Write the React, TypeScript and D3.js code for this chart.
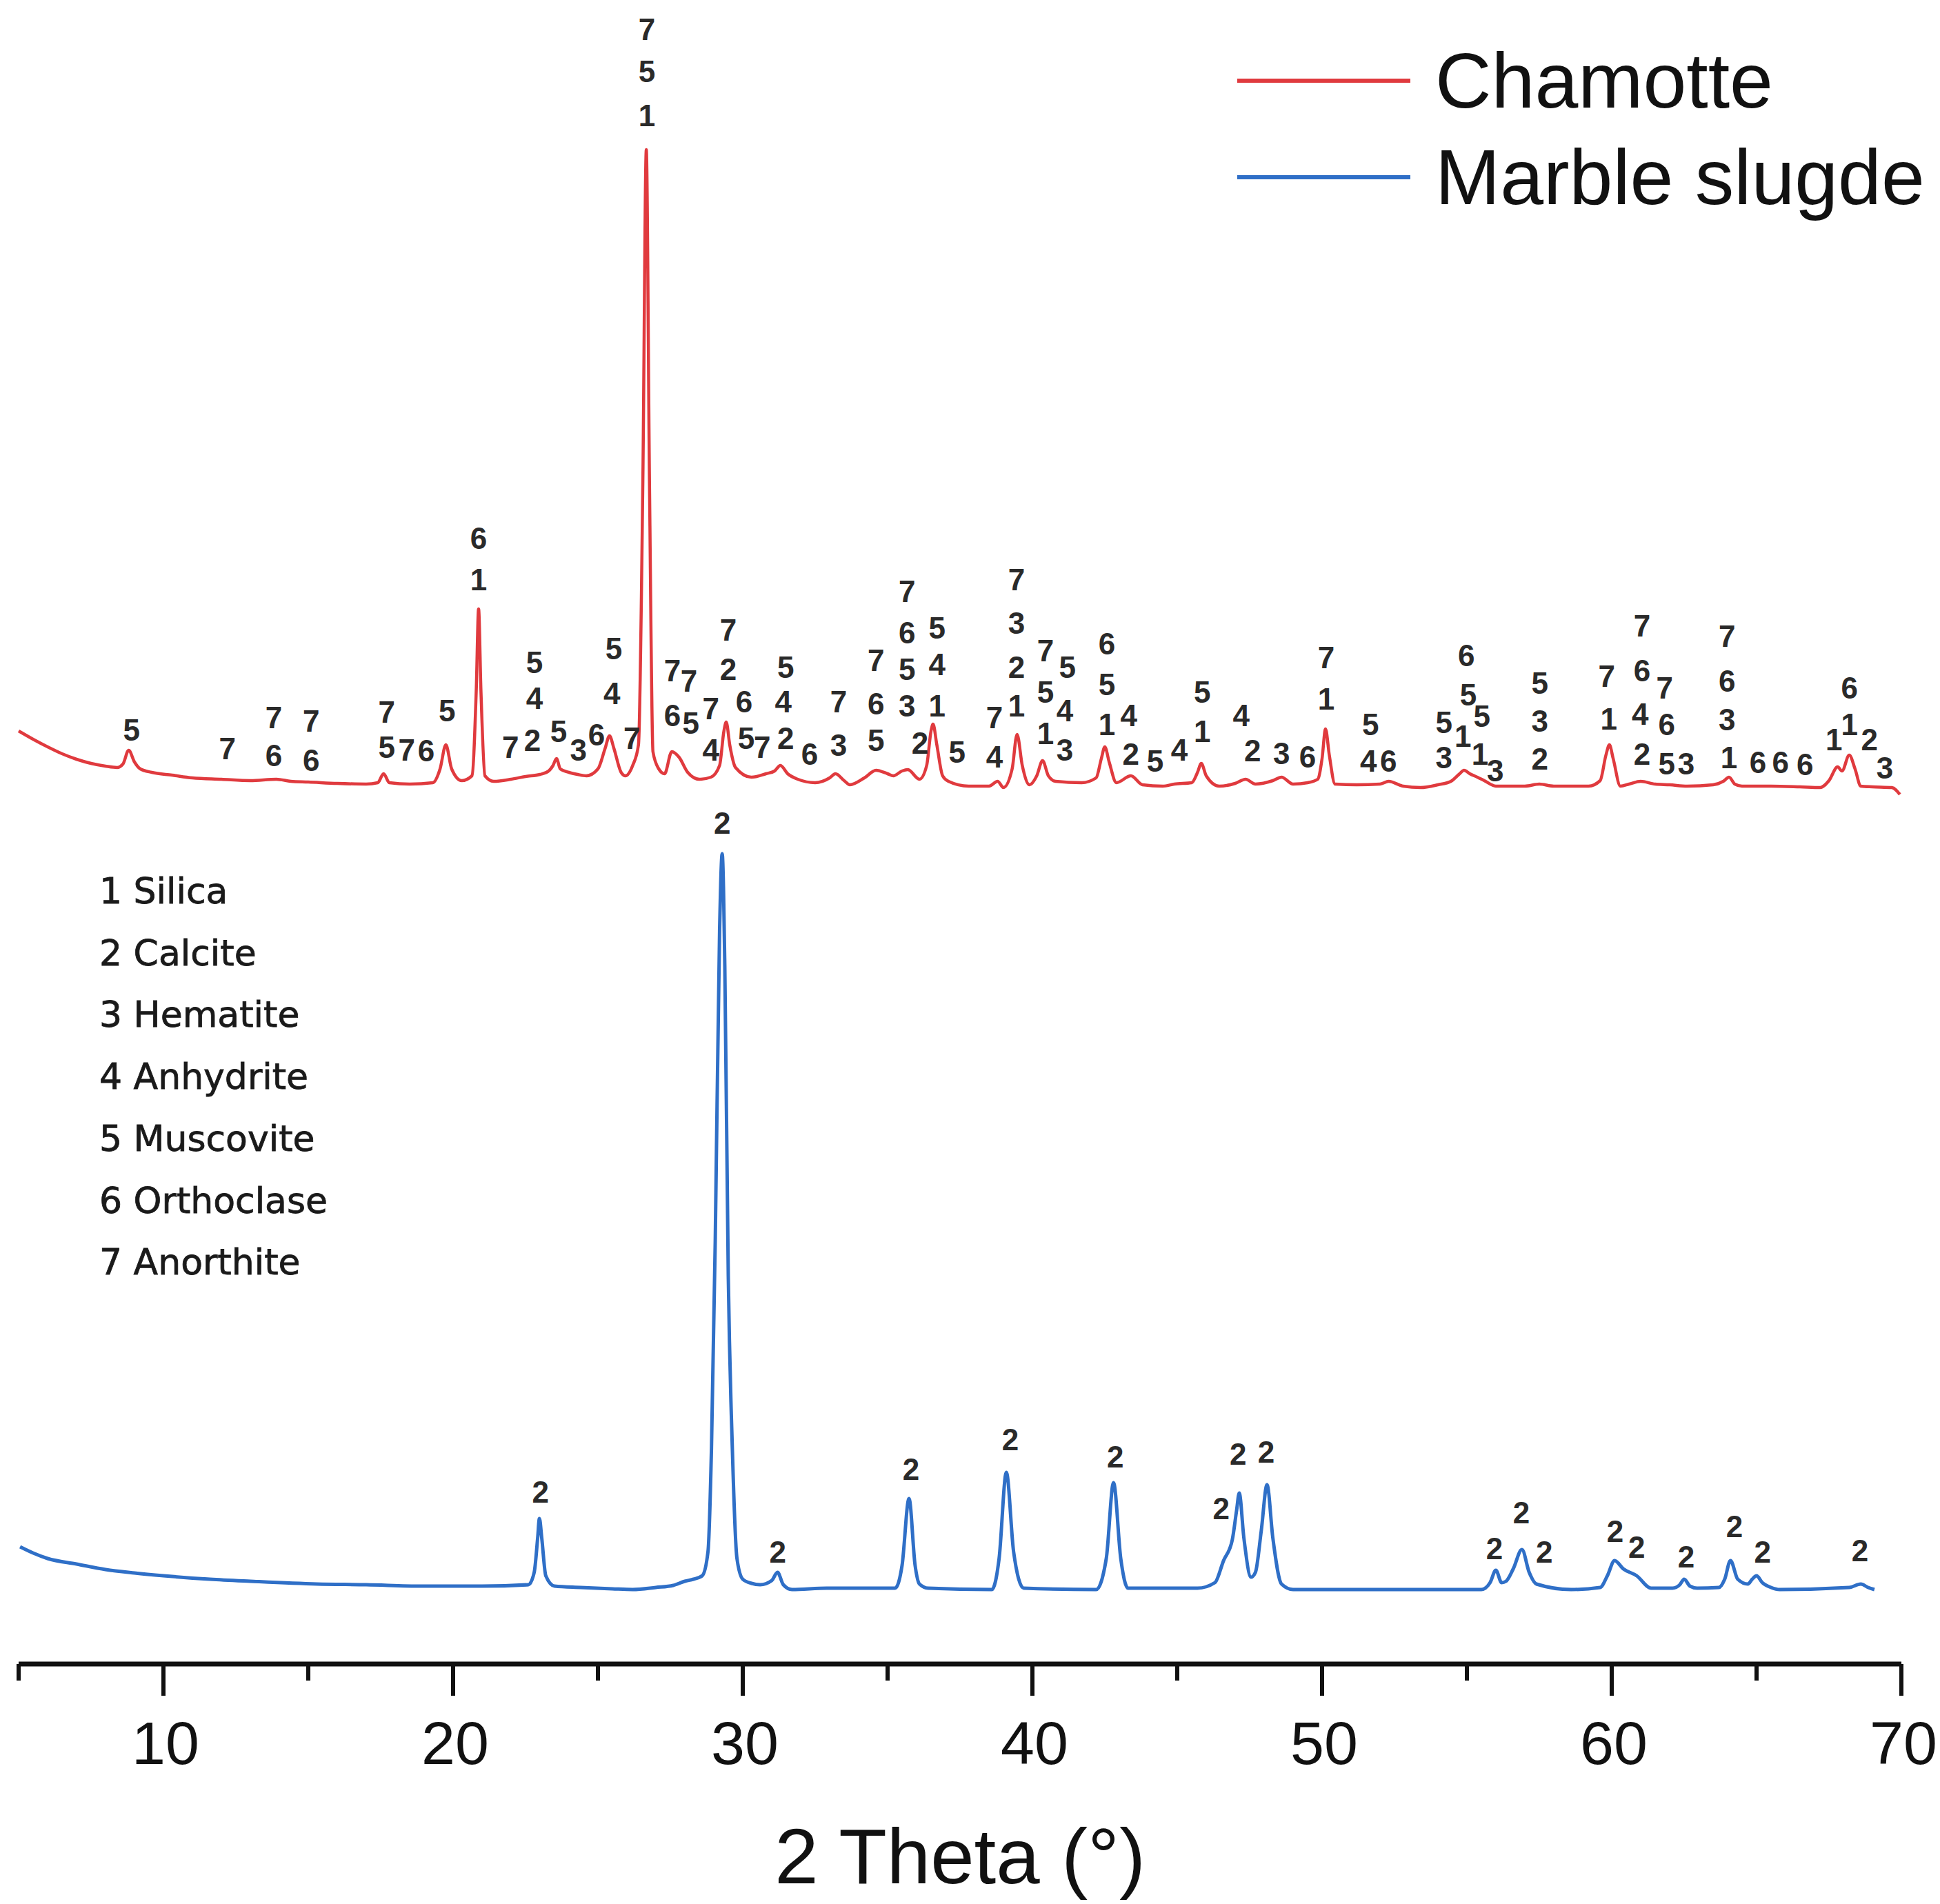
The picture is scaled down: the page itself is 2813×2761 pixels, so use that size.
import React from "react";
import * as d3 from "d3";

// ---- data (2θ in degrees, intensity in arbitrary units, stacked) ----
const SERIES_NAMES = ["Chamotte", "Marble slugde"];
const SERIES_COLORS = ["#e03a3e", "#2f6fc7"];

const CHAMOTTE: [number, number][] = [
  [5.0, 1353], [5.5, 1341], [6.0, 1330], [6.5, 1320], [7.0, 1312], [7.5, 1306], [8.0, 1302], [8.4, 1300],
  [8.6, 1305], [8.8, 1325], [9.0, 1308], [9.2, 1298], [9.6, 1293], [10.3, 1289], [11.0, 1285], [12.0, 1283],
  [13.0, 1281], [13.9, 1283], [14.4, 1280], [15.0, 1279], [16.0, 1277], [17.0, 1276], [17.4, 1278], [17.6, 1291],
  [17.8, 1278], [18.5, 1276], [19.3, 1278], [19.55, 1298], [19.75, 1333], [19.95, 1298], [20.3, 1281], [20.65, 1288],
  [20.8, 1413], [20.88, 1530], [20.96, 1413], [21.1, 1288], [21.4, 1280], [22.0, 1283], [22.5, 1287], [23.0, 1290],
  [23.3, 1295], [23.45, 1303], [23.57, 1313], [23.7, 1298], [24.0, 1293], [24.3, 1290], [24.6, 1288], [25.0, 1298],
  [25.25, 1328], [25.4, 1346], [25.55, 1328], [25.8, 1293], [25.95, 1288], [26.2, 1303], [26.4, 1333], [26.55, 1713],
  [26.67, 2196], [26.78, 1713], [26.9, 1323], [27.1, 1298], [27.3, 1291], [27.55, 1323], [27.8, 1315], [28.1, 1293],
  [28.5, 1283], [28.9, 1286], [29.2, 1303], [29.35, 1353], [29.43, 1366], [29.55, 1333], [29.75, 1300], [30.3, 1286],
  [30.8, 1291], [31.1, 1295], [31.3, 1303], [31.55, 1291], [31.9, 1283], [32.5, 1278], [33.0, 1285], [33.2, 1291],
  [33.5, 1281], [33.7, 1275], [34.2, 1285], [34.6, 1296], [35.0, 1291], [35.2, 1288], [35.5, 1295], [35.7, 1297],
  [36.1, 1283], [36.35, 1303], [36.5, 1353], [36.57, 1363], [36.7, 1333], [36.9, 1288], [37.1, 1280], [37.8, 1273],
  [38.5, 1273], [38.8, 1280], [39.0, 1271], [39.3, 1298], [39.47, 1348], [39.65, 1303], [39.9, 1275], [40.15, 1288],
  [40.35, 1310], [40.55, 1288], [40.8, 1280], [41.7, 1278], [42.2, 1285], [42.38, 1313], [42.5, 1330], [42.65, 1308],
  [42.9, 1278], [43.4, 1288], [43.8, 1275], [44.5, 1273], [44.9, 1276], [45.5, 1278], [45.7, 1293], [45.83, 1306],
  [46.0, 1288], [46.45, 1273], [47.0, 1277], [47.36, 1283], [47.7, 1276], [48.3, 1281], [48.6, 1286], [49.0, 1276],
  [49.5, 1278], [49.85, 1283], [50.0, 1313], [50.12, 1356], [50.25, 1318], [50.45, 1276], [51.2, 1275], [52.0, 1276],
  [52.3, 1280], [52.8, 1273], [53.4, 1271], [54.0, 1275], [54.45, 1280], [54.75, 1291], [54.9, 1296], [55.1, 1291],
  [55.36, 1286], [55.6, 1281], [56.0, 1273], [57.0, 1273], [57.5, 1276], [58.0, 1273], [59.2, 1273], [59.6, 1281],
  [59.8, 1318], [59.92, 1333], [60.05, 1313], [60.3, 1273], [60.6, 1276], [61.0, 1280], [61.5, 1276], [62.0, 1275],
  [62.6, 1273], [63.5, 1275], [63.85, 1280], [64.05, 1286], [64.25, 1276], [64.5, 1273], [65.5, 1273], [66.5, 1272],
  [67.2, 1271], [67.5, 1281], [67.8, 1301], [67.95, 1295], [68.2, 1318], [68.4, 1298], [68.6, 1273], [69.0, 1272],
  [69.67, 1271], [69.95, 1261],
];

const MARBLE: [number, number][] = [
  [5.05, 170], [5.5, 161], [6.0, 153], [7.0, 145], [8.0, 137], [9.0, 132], [10.0, 128], [11.6, 123],
  [13.0, 120], [15.3, 116], [17.0, 115], [18.9, 113], [21.0, 113], [22.6, 115], [22.8, 133], [22.92, 183],
  [22.98, 211], [23.06, 183], [23.2, 128], [23.5, 113], [24.4, 111], [25.5, 109], [26.2, 108], [27.0, 111],
  [27.6, 114], [28.0, 120], [28.3, 123], [28.6, 128], [28.8, 163], [28.92, 313], [29.05, 613], [29.2, 1063],
  [29.29, 1175], [29.38, 1013], [29.5, 563], [29.64, 313], [29.8, 153], [30.0, 123], [30.3, 117], [30.6, 115],
  [31.0, 121], [31.2, 133], [31.4, 115], [31.7, 108], [32.9, 110], [35.26, 110], [35.5, 143], [35.74, 240],
  [35.95, 143], [36.1, 116], [36.4, 110], [38.6, 108], [38.85, 153], [39.1, 278], [39.35, 163], [39.7, 110],
  [42.2, 108], [42.55, 153], [42.8, 263], [43.05, 153], [43.3, 110], [45.7, 110], [46.3, 118], [46.6, 150],
  [46.9, 180], [47.05, 223], [47.14, 248], [47.3, 183], [47.55, 126], [47.7, 133], [47.9, 193], [48.1, 260],
  [48.3, 183], [48.6, 116], [49.0, 108], [50.6, 108], [55.5, 108], [55.8, 118], [56.0, 136], [56.2, 118],
  [56.35, 120], [56.6, 138], [56.9, 166], [57.15, 133], [57.4, 116], [58.6, 108], [59.6, 111], [59.85, 128],
  [60.1, 150], [60.4, 138], [60.86, 128], [61.36, 110], [62.1, 110], [62.35, 115], [62.5, 123], [62.7, 113],
  [62.95, 110], [63.7, 111], [63.9, 123], [64.1, 150], [64.35, 123], [64.7, 116], [64.85, 123], [65.0, 128],
  [65.2, 118], [65.5, 111], [65.8, 108], [68.2, 111], [68.6, 116], [68.85, 111], [69.07, 108],
];

// phase markers: [2θ, intensity level, phase number]
const CHAMOTTE_MARKS: [number, number, string][] = [
  [8.9, 1355, "5"], [12.21, 1328, "7"], [13.81, 1373, "7"], [13.81, 1318, "6"], [15.1, 1368, "7"], [15.1, 1311, "6"],
  [17.71, 1381, "7"], [17.71, 1330, "5"], [18.4, 1326, "7"], [19.07, 1325, "6"], [19.79, 1383, "5"],
  [20.88, 1633, "6"], [20.88, 1573, "1"], [21.98, 1330, "7"], [22.81, 1453, "5"], [22.81, 1401, "4"], [22.74, 1340, "2"],
  [23.64, 1353, "5"], [24.33, 1326, "3"], [24.95, 1348, "6"], [25.55, 1473, "5"], [25.48, 1408, "4"], [26.17, 1343, "7"],
  [26.69, 2371, "7"], [26.69, 2310, "5"], [26.69, 2246, "1"],
  [27.57, 1441, "7"], [27.57, 1376, "6"], [28.14, 1426, "7"], [28.21, 1365, "5"], [28.9, 1386, "7"], [28.9, 1326, "4"],
  [29.5, 1500, "7"], [29.5, 1443, "2"], [30.05, 1396, "6"], [30.12, 1343, "5"], [30.67, 1330, "7"],
  [31.48, 1446, "5"], [31.4, 1396, "4"], [31.48, 1343, "2"], [32.31, 1320, "6"], [33.31, 1396, "7"], [33.31, 1333, "3"],
  [34.6, 1456, "7"], [34.6, 1393, "6"], [34.6, 1340, "5"],
  [35.67, 1556, "7"], [35.67, 1496, "6"], [35.67, 1443, "5"], [35.67, 1390, "3"], [36.12, 1336, "2"],
  [36.71, 1503, "5"], [36.71, 1450, "4"], [36.71, 1390, "1"], [37.4, 1323, "5"], [38.69, 1373, "7"], [38.69, 1316, "4"],
  [39.45, 1573, "7"], [39.45, 1510, "3"], [39.45, 1446, "2"], [39.45, 1390, "1"],
  [40.45, 1470, "7"], [40.45, 1410, "5"], [40.45, 1350, "1"], [41.21, 1446, "5"], [41.12, 1383, "4"], [41.12, 1326, "3"],
  [42.57, 1480, "6"], [42.57, 1421, "5"], [42.57, 1363, "1"], [43.33, 1376, "4"], [43.4, 1320, "2"],
  [44.24, 1310, "5"], [45.07, 1326, "4"], [45.86, 1410, "5"], [45.86, 1353, "1"], [47.21, 1376, "4"], [47.6, 1325, "2"],
  [48.6, 1321, "3"], [49.5, 1316, "6"], [50.14, 1460, "7"], [50.14, 1400, "1"],
  [51.67, 1363, "5"], [51.6, 1310, "4"], [52.29, 1310, "6"], [54.21, 1366, "5"], [54.21, 1315, "3"],
  [54.98, 1463, "6"], [55.05, 1406, "5"], [54.86, 1346, "1"], [55.52, 1375, "5"], [55.45, 1320, "1"], [55.98, 1296, "3"],
  [57.52, 1423, "5"], [57.52, 1368, "3"], [57.52, 1313, "2"], [59.83, 1433, "7"], [59.9, 1371, "1"],
  [61.05, 1506, "7"], [61.05, 1441, "6"], [60.98, 1378, "4"], [61.05, 1320, "2"],
  [61.83, 1416, "7"], [61.9, 1363, "6"], [61.9, 1306, "5"], [62.57, 1306, "3"],
  [63.98, 1491, "7"], [63.98, 1426, "6"], [63.98, 1370, "3"], [64.05, 1315, "1"],
  [65.05, 1308, "6"], [65.83, 1308, "6"], [66.67, 1305, "6"],
  [67.67, 1341, "1"], [68.21, 1416, "6"], [68.21, 1363, "1"], [68.9, 1341, "2"], [69.43, 1300, "3"],
];

const MARBLE_MARKS: [number, number, string][] = [
  [23.02, 250, "2"], [29.29, 1220, "2"], [31.21, 163, "2"], [35.81, 283, "2"], [39.24, 326, "2"], [42.86, 301, "2"],
  [46.52, 226, "2"], [47.1, 305, "2"], [48.07, 308, "2"], [55.95, 168, "2"], [56.88, 220, "2"], [57.67, 163, "2"],
  [60.12, 193, "2"], [60.86, 170, "2"], [62.57, 156, "2"], [64.24, 200, "2"], [65.21, 163, "2"], [68.57, 165, "2"],
];

const PHASES = ["1 Silica", "2 Calcite", "3 Hematite", "4 Anhydrite", "5 Muscovite", "6 Orthoclase", "7 Anorthite"];
const MAJOR_TICKS = [10, 20, 30, 40, 50, 60, 70];
const MINOR_TICKS = [5, 15, 25, 35, 45, 55, 65];
const X_TITLE = "2 Theta (°)";

const W = 2813;
const H = 2761;

export default function App() {
  const x = d3.scaleLinear().domain([5, 70]).range([27, 2757]);
  const y = d3.scaleLinear().domain([0, 2400]).range([2413, 13]);
  const line = d3
    .line<[number, number]>()
    .x((d) => x(d[0]))
    .y((d) => y(d[1]))
    .curve(d3.curveMonotoneX);

  const axisY = 2413;
  const sans = "'Liberation Sans', Arial, sans-serif";
  const marks = [...CHAMOTTE_MARKS, ...MARBLE_MARKS];

  return (
    <svg
      width={W}
      height={H}
      viewBox={`0 0 ${W} ${H}`}
      style={{ position: "absolute", left: 0, top: 0, background: "#fff" }}
    >
      <rect x={0} y={0} width={W} height={H} fill="#fff" />
      <path d={line(CHAMOTTE) || ""} fill="none" stroke={SERIES_COLORS[0]} strokeWidth={4.5} strokeLinejoin="round" />
      <path d={line(MARBLE) || ""} fill="none" stroke={SERIES_COLORS[1]} strokeWidth={5} strokeLinejoin="round" />

      {marks.map((m, i) => (
        <text
          key={i}
          x={x(m[0])}
          y={y(m[1])}
          textAnchor="middle"
          dominantBaseline="central"
          fontFamily={sans}
          fontWeight="bold"
          fontSize={44}
          fill="#2a2a2a"
        >
          {m[2]}
        </text>
      ))}

      {/* phase key */}
      {PHASES.map((p, i) => (
        <text
          key={p}
          x={144}
          y={1292 + i * 89.7}
          dominantBaseline="central"
          fontFamily="'DejaVu Sans', Verdana, sans-serif"
          fontSize={52}
          fill="#1a1a1a"
          stroke="#1a1a1a"
          strokeWidth={0.8}
        >
          {p}
        </text>
      ))}

      {/* series legend */}
      {SERIES_NAMES.map((n, i) => (
        <g key={n}>
          <line x1={1794} x2={2045} y1={117 + i * 140} y2={117 + i * 140} stroke={SERIES_COLORS[i]} strokeWidth={6} />
          <text x={2081} y={117 + i * 140} dominantBaseline="central" fontFamily={sans} fontSize={113} fill="#111">
            {n}
          </text>
        </g>
      ))}

      {/* x axis */}
      <line x1={x(5)} x2={x(70)} y1={axisY} y2={axisY} stroke="#111" strokeWidth={7} />
      {MINOR_TICKS.map((t) => (
        <line key={"m" + t} x1={x(t)} x2={x(t)} y1={axisY} y2={axisY + 24} stroke="#111" strokeWidth={6} />
      ))}
      {MAJOR_TICKS.map((t) => (
        <g key={"M" + t}>
          <line x1={x(t)} x2={x(t)} y1={axisY} y2={axisY + 46} stroke="#111" strokeWidth={6} />
          <text
            x={x(t) + 3}
            y={2527}
            textAnchor="middle"
            dominantBaseline="central"
            fontFamily={sans}
            fontSize={88}
            fill="#111"
          >
            {t}
          </text>
        </g>
      ))}
      <text
        x={1392}
        y={2691}
        textAnchor="middle"
        dominantBaseline="central"
        fontFamily={sans}
        fontSize={114}
        fill="#111"
      >
        {X_TITLE}
      </text>
    </svg>
  );
}
